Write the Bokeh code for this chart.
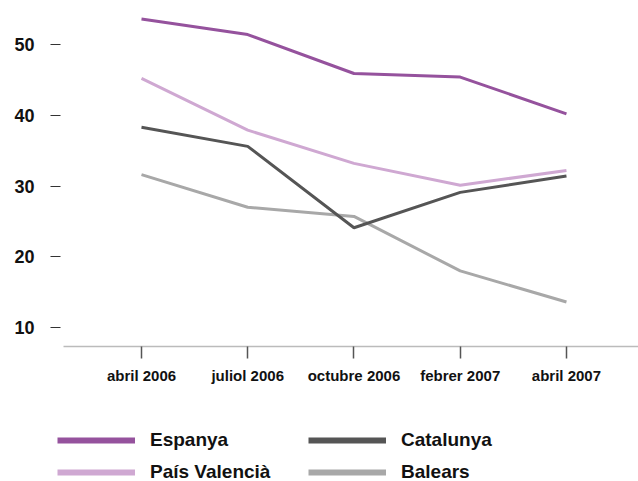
from bokeh.plotting import figure
from bokeh.layouts import column, row
from bokeh.models import Legend, LegendItem, FixedTicker, Range1d
from bokeh.embed import file_html
from bokeh.resources import INLINE

periods = ["abril 2006", "juliol 2006", "octubre 2006", "febrer 2007", "abril 2007"]
espanya = [53.6, 51.4, 45.9, 45.4, 40.2]
pais_valencia = [45.2, 37.9, 33.2, 30.1, 32.2]
catalunya = [38.3, 35.6, 24.1, 29.1, 31.4]
balears = [31.6, 27.0, 25.7, 18.0, 13.6]
y_ticks = [10, 20, 30, 40, 50]

names = ["Espanya", "País Valencià", "Catalunya", "Balears"]
colors = ["#95529d", "#cfa8d2", "#555555", "#a8a8a8"]
values = [espanya, pais_valencia, catalunya, balears]

xs = list(range(len(periods)))
FONT = "Liberation Sans"

p = figure(width=638, height=395, output_backend="svg", toolbar_location=None,
           x_range=Range1d(-0.734, 4.678), y_range=Range1d(7.314, 56.22),
           min_border_left=63, min_border_right=0, min_border_top=0, min_border_bottom=49)
p.outline_line_color = None
p.xgrid.visible = False
p.ygrid.visible = False

# x axis
p.xaxis.ticker = FixedTicker(ticks=xs)
p.xaxis.major_label_overrides = {i: lab for i, lab in zip(xs, periods)}
p.xaxis.axis_line_color = "#bbbbbb"
p.xaxis.axis_line_width = 1.5
p.xaxis.major_tick_line_color = "#555555"
p.xaxis.major_tick_line_width = 1.5
p.xaxis.major_tick_in = 0
p.xaxis.major_tick_out = 12
p.xaxis.minor_tick_line_color = None
p.xaxis.major_label_standoff = 8
p.xaxis.major_label_text_font = FONT
p.xaxis.major_label_text_font_style = "bold"
p.xaxis.major_label_text_font_size = "15px"
p.xaxis.major_label_text_color = "#111111"

# y axis
p.yaxis.ticker = FixedTicker(ticks=y_ticks)
p.yaxis.axis_line_color = None
p.yaxis.major_tick_line_color = "#333333"
p.yaxis.major_tick_line_width = 1.2
p.yaxis.major_tick_in = -3
p.yaxis.major_tick_out = 13
p.yaxis.minor_tick_line_color = None
p.yaxis.major_label_standoff = 16
p.yaxis.major_label_text_font = FONT
p.yaxis.major_label_text_font_style = "bold"
p.yaxis.major_label_text_font_size = "18px"
p.yaxis.major_label_text_color = "#111111"

draw_order = [3, 2, 1, 0]
for i in draw_order:
    p.line(xs, values[i], line_color=colors[i], line_width=3)

# legend figure
lf = figure(width=638, height=86, output_backend="svg", toolbar_location=None,
            x_range=Range1d(0, 1), y_range=Range1d(0, 1),
            min_border_left=0, min_border_right=0, min_border_top=0, min_border_bottom=0)
lf.outline_line_color = None
lf.axis.visible = False
lf.grid.visible = False

nan = float("nan")
items = []
for name, c in zip(names, colors):
    r = lf.line(x=[nan], y=[nan], line_color=c, line_width=6)
    items.append(LegendItem(label=name, renderers=[r]))

legend = Legend(items=items, location=(57, -7), orientation="vertical", ncols=2,
                label_text_font=FONT, label_text_font_style="bold", label_text_font_size="19px",
                label_text_color="#111111",
                glyph_width=78, glyph_height=32, label_height=32, label_standoff=15,
                label_width=158,
                spacing=0, padding=0, margin=0, border_line_color=None,
                background_fill_alpha=0)
lf.add_layout(legend)

open("out.html", "w").write(file_html(column(p, row(lf, spacing=0), spacing=0), INLINE))
